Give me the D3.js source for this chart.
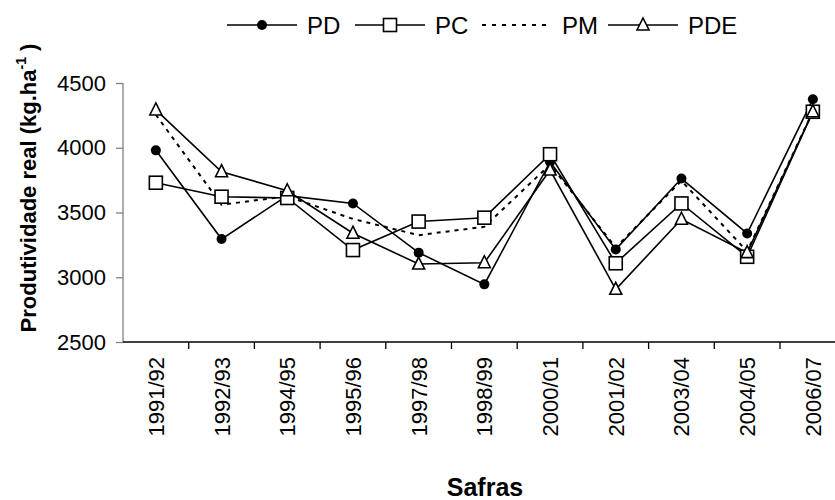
<!DOCTYPE html>
<html>
<head>
<meta charset="utf-8">
<script src="https://cdn.jsdelivr.net/npm/d3@7"></script>
<style>
  body { margin: 0; background: #fff; }
  text { font-family: "Liberation Sans", Arial, sans-serif; }
</style>
</head>
<body>
<div id="chart"></div>
<script>
// categories (safras)
const safras = ['1991/92', '1992/93', '1994/95', '1995/96', '1997/98', '1998/99', '2000/01', '2001/02', '2003/04', '2004/05', '2006/07']

// series values (kg/ha)
const PD = [3980, 3295, 3630, 3570, 3190, 2945, 3890, 3215, 3762, 3338, 4375]
const PC = [3730, 3622, 3612, 3210, 3430, 3460, 3950, 3108, 3570, 3158, 4278]
const PM = [4255, 3560, 3625, 3450, 3325, 3390, 3870, 3230, 3745, 3200, 4280]
const PDE = [4292, 3815, 3668, 3340, 3102, 3112, 3828, 2907, 3448, 3190, 4278]

const yTicks = [2500, 3000, 3500, 4000, 4500]

const series = [
    { name: 'PM', values: PM, marker: 'none', dash: '4,5' },
    { name: 'PD', values: PD, marker: 'circle', dash: null },
    { name: 'PC', values: PC, marker: 'square', dash: null },
    { name: 'PDE', values: PDE, marker: 'triangle', dash: null }
]
const legendOrder = ['PD', 'PC', 'PM', 'PDE']

const svgWidth = 835
const svgHeight = 500

const margin = { left: 123, top: 83, bottom: 158 }
const band = 65.7

const svg = d3.select('#chart')
    .append('svg')
    .attr('width', svgWidth)
    .attr('height', svgHeight)

////////////// scales //////////////
const x = d3.scaleBand()
    .domain(safras)
    .range([margin.left, margin.left + band * safras.length])

const y = d3.scaleLinear()
    .domain([2500, 4500])
    .range([svgHeight - margin.bottom, margin.top])

const cx = d => x(d) + x.bandwidth() / 2

////////////// axes //////////////
const yAxis = svg.append('g')
    .attr('transform', `translate(${margin.left},0)`)
    .call(d3.axisLeft(y).tickValues(yTicks).tickFormat(d3.format('d')).tickSize(7).tickPadding(10))
yAxis.selectAll('line, path').attr('stroke', '#808080').attr('stroke-width', 1.3)
yAxis.select('.domain').attr('d', `M0,${y(4500)}V${y(2500)}`)
yAxis.selectAll('text')
    .attr('fill', '#000')
    .style('font-size', '22px')

// x axis line + ticks between categories
const xg = svg.append('g')
xg.append('line')
    .attr('x1', margin.left).attr('x2', svgWidth)
    .attr('y1', y(2500)).attr('y2', y(2500))
    .attr('stroke', '#000').attr('stroke-width', 1.3)
xg.selectAll('.tk')
    .data(safras.slice(1))
    .join('line')
    .attr('class', 'tk')
    .attr('x1', d => x(d)).attr('x2', d => x(d))
    .attr('y1', y(2500)).attr('y2', y(2500) + 7)
    .attr('stroke', '#000').attr('stroke-width', 1.3)
xg.selectAll('.lbl')
    .data(safras)
    .join('text')
    .attr('class', 'lbl')
    .attr('transform', d => `translate(${cx(d) + 8},${y(2500) + 15}) rotate(-90)`)
    .attr('text-anchor', 'end')
    .style('font-size', '22px')
    .text(d => d)

// axis titles
svg.append('text')
    .attr('x', 485).attr('y', 496)
    .attr('text-anchor', 'middle')
    .style('font-size', '25px')
    .style('font-weight', 'bold')
    .text('Safras')

const yt = svg.append('text')
    .attr('transform', 'translate(36,188) rotate(-90)')
    .attr('text-anchor', 'middle')
    .style('font-size', '22px')
    .style('font-weight', 'bold')
yt.append('tspan').text('Produtividade real (kg.ha')
yt.append('tspan').attr('dy', -10).style('font-size', '14px').text('-1')
yt.append('tspan').attr('dy', 10).text(' )')

////////////// lines //////////////
const line = d3.line()
    .x((d, i) => cx(safras[i]))
    .y(d => y(d))

svg.append('g')
    .selectAll('path')
    .data(series)
    .join('path')
    .attr('d', d => line(d.values))
    .attr('fill', 'none')
    .attr('stroke', '#000')
    .attr('stroke-width', d => d.dash ? 2 : 1.6)
    .attr('stroke-dasharray', d => d.dash)

////////////// markers //////////////
function drawMarker(g, type, px, py) {
    if (type === 'circle') {
        g.append('circle').attr('cx', px).attr('cy', py).attr('r', 5).attr('fill', '#000')
    } else if (type === 'square') {
        g.append('rect').attr('x', px - 6.5).attr('y', py - 6.5).attr('width', 13).attr('height', 13)
            .attr('fill', '#fff').attr('stroke', '#000').attr('stroke-width', 1.6)
    } else if (type === 'triangle') {
        g.append('path').attr('d', `M${px},${py - 7}L${px + 6},${py + 5}L${px - 6},${py + 5}Z`)
            .attr('fill', '#fff').attr('stroke', '#000').attr('stroke-width', 1.6)
    }
}

const mg = svg.append('g')
series.forEach(s => {
    s.values.forEach((v, i) => drawMarker(mg, s.marker, cx(safras[i]), y(v)))
})

////////////// legend //////////////
const legendX = [227, 355, 482, 608]
const lg = svg.append('g')
legendOrder.forEach((name, i) => {
    const s = series.find(d => d.name === name)
    const x0 = legendX[i]
    lg.append('line')
        .attr('x1', x0).attr('x2', x0 + 70)
        .attr('y1', 25).attr('y2', 25)
        .attr('stroke', '#000')
        .attr('stroke-width', s.dash ? 2 : 1.6)
        .attr('stroke-dasharray', s.dash ? '4,6' : null)
    drawMarker(lg, s.marker, x0 + 35, 25)
    lg.append('text')
        .attr('x', x0 + 80).attr('y', 34)
        .style('font-size', '24px')
        .text(name)
})
</script>
</body>
</html>
